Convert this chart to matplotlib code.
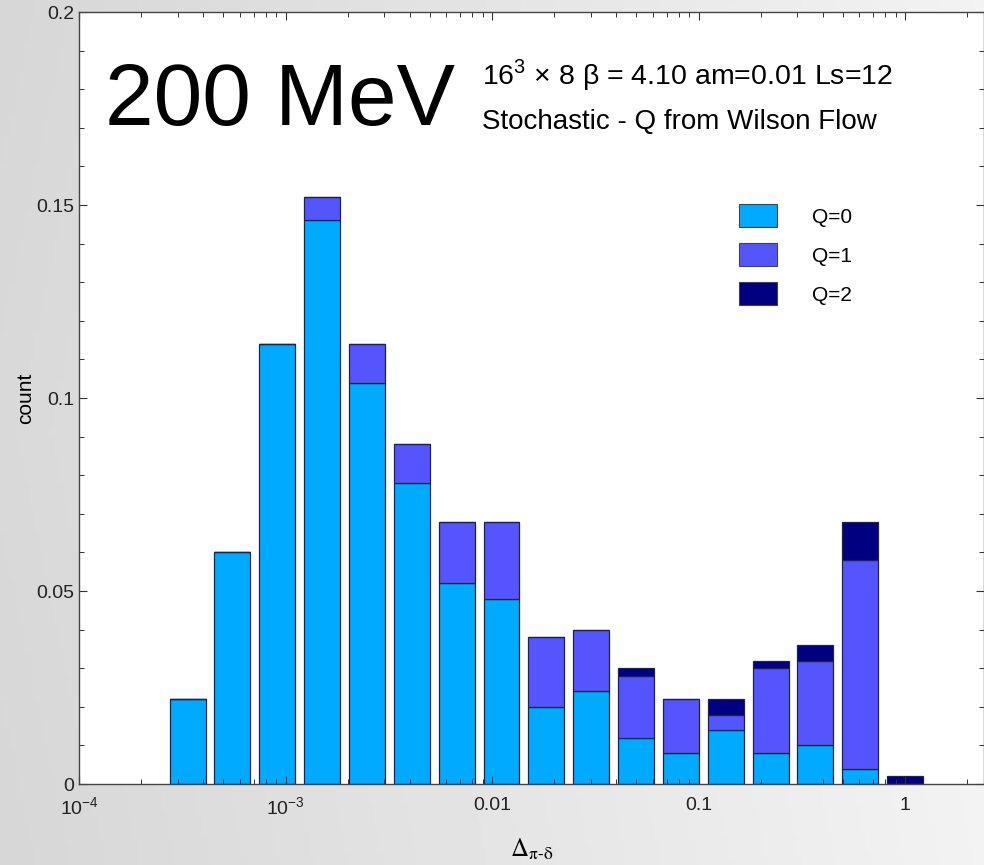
import numpy as np
import matplotlib
matplotlib.use("Agg")
import matplotlib.pyplot as plt
from matplotlib.patches import Patch
from matplotlib.ticker import FixedLocator, LogLocator, MultipleLocator, NullFormatter

# bin centres in ln(Delta), bins are 0.5 wide
ln_centres = [-8.0, -7.5, -7.0, -6.5, -6.0, -5.5, -5.0, -4.5, -4.0,
              -3.5, -3.0, -2.5, -2.0, -1.5, -1.0, -0.5, 0.0]

# normalised counts per topological sector
q0 = [0.022, 0.060, 0.114, 0.146, 0.104, 0.078, 0.052, 0.048, 0.020,
      0.024, 0.012, 0.008, 0.014, 0.008, 0.010, 0.004, 0.000]
q1 = [0.000, 0.000, 0.000, 0.006, 0.010, 0.010, 0.016, 0.020, 0.018,
      0.016, 0.016, 0.014, 0.004, 0.022, 0.022, 0.054, 0.000]
q2 = [0.000, 0.000, 0.000, 0.000, 0.000, 0.000, 0.000, 0.000, 0.000,
      0.000, 0.002, 0.000, 0.004, 0.002, 0.004, 0.010, 0.002]

labels = ["Q=0", "Q=1", "Q=2"]
colors = ["#00aaff", "#5555ff", "#000080"]

xtick_vals = [1e-4, 1e-3, 1e-2, 1e-1, 1.0]
xtick_labels = [r"$10^{-4}$", r"$10^{-3}$", "0.01", "0.1", "1"]
ytick_vals = [0, 0.05, 0.1, 0.15, 0.2]
ytick_labels = ["0", "0.05", "0.1", "0.15", "0.2"]

plt.rcParams["font.family"] = ["Liberation Sans", "DejaVu Sans"]
plt.rcParams["mathtext.fontset"] = "custom"
plt.rcParams["mathtext.rm"] = "Liberation Sans"

fig = plt.figure(figsize=(9.84, 8.65), dpi=100)

# grey gradient behind everything
bg = fig.add_axes([0, 0, 1, 1], zorder=-10)
gx, gy = np.meshgrid(np.linspace(0, 1, 200), np.linspace(0, 1, 200))
shade = 0.85 + 0.11 * gx - 0.02 * np.abs(gy - 0.5)
bg.imshow(shade, cmap="gray", vmin=0, vmax=1, aspect="auto", extent=[0, 1, 0, 1])
bg.axis("off")

ax = fig.add_axes([0.0803, 0.0936, 0.9197, 0.8925])
ax.set_facecolor("white")

ln_c = np.array(ln_centres)
left = np.exp(ln_c - 0.2)
width = np.exp(ln_c + 0.2) - left
bottom = np.zeros(len(ln_c))
for vals, col, lab in zip([q0, q1, q2], colors, labels):
    vals = np.array(vals)
    ax.bar(left, vals, width=width, bottom=bottom, align="edge", color=col,
           edgecolor="#222244", linewidth=0.9, label=lab)
    bottom += vals

ax.set_xscale("log")
ax.set_xlim(1e-4, 2.41)
ax.set_ylim(0, 0.2)

ax.xaxis.set_major_locator(FixedLocator(xtick_vals))
ax.set_xticklabels(xtick_labels)
ax.xaxis.set_minor_locator(LogLocator(base=10, subs=np.arange(2, 10)))
ax.xaxis.set_minor_formatter(NullFormatter())
ax.set_yticks(ytick_vals)
ax.set_yticklabels(ytick_labels)
ax.yaxis.set_minor_locator(MultipleLocator(0.01))

ax.tick_params(which="both", direction="in", top=True, right=True,
               labelsize=14, colors="#333333", labelcolor="#222222")
ax.tick_params(which="major", length=6, width=0.8)
ax.tick_params(which="minor", length=3.5, width=0.7)
ax.tick_params(axis="x", which="major", pad=9)
for s in ax.spines.values():
    s.set_color("#444444")
    s.set_linewidth(1.0)

ax.set_ylabel("count", fontsize=15, labelpad=1)
ax.set_xlabel(r"$\Delta_{\mathrm{π}\text{-}\mathrm{δ}}$", fontsize=18, labelpad=13,
              math_fontfamily="stix")

fig.text(0.107, 0.8555, "200 MeV", fontsize=63, va="baseline", ha="left")
fig.text(0.490, 0.9029, r"16$^3$ × 8 β = 4.10 am=0.01 Ls=12", fontsize=20.5,
         va="baseline", ha="left")
fig.text(0.490, 0.8510, "Stochastic - Q from Wilson Flow", fontsize=20,
         va="baseline", ha="left")

handles = [Patch(facecolor=c, edgecolor="#444444", linewidth=0.8) for c in colors]
ax.legend(handles, labels, loc="upper left", bbox_to_anchor=(0.729, 0.751),
          frameon=False, fontsize=15, handlelength=1.83, handleheight=1.3,
          labelspacing=0.78, handletextpad=1.68, borderpad=0, borderaxespad=0)

fig.savefig("out.png", dpi=100)
